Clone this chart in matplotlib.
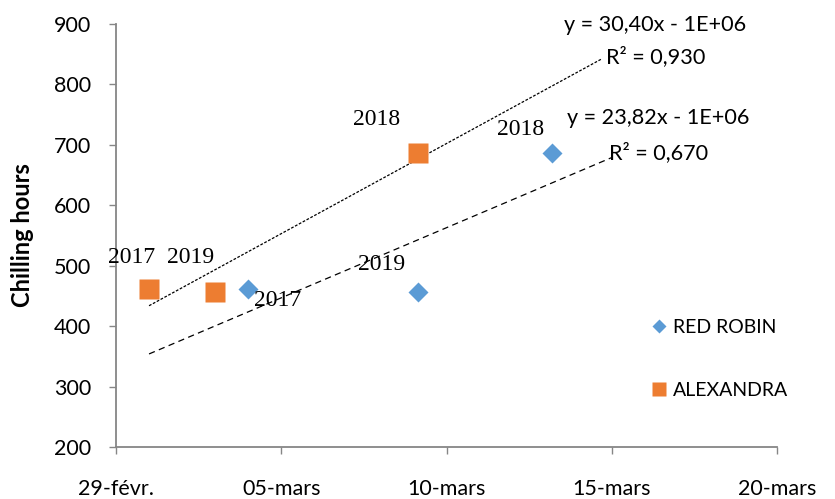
import numpy as np
import matplotlib.pyplot as plt
from matplotlib.ticker import FixedLocator

plt.rcParams['font.family'] = ['Lato', 'DejaVu Sans']

# days counted from 29 Feb
tick_days = [0, 5, 10, 15, 20]
tick_labels = ['29-févr.', '05-mars', '10-mars', '15-mars', '20-mars']
y_ticks = [200, 300, 400, 500, 600, 700, 800, 900]

rr_days = [4.0, 9.15, 13.2]
rr_hours = [462, 456, 686]
rr_years = ['2017', '2019', '2018']

al_days = [1.0, 3.0, 9.15]
al_hours = [462, 456, 686]
al_years = ['2017', '2019', '2018']

blue = '#5B9BD5'
orange = '#ED7D31'
grey = '#868686'

fig = plt.figure(figsize=(8.35, 4.99), dpi=100)
ax = fig.add_axes([116 / 835, 1 - 447 / 499, (777 - 116) / 835, (447 - 24) / 499])

# trendlines (linear fit, extended like excel forecast)
k_al = np.polyfit(al_days, al_hours, 1)
xs = np.array([1.0, 14.7])
ax.plot(xs, np.polyval(k_al, xs), color='black', lw=0.9, dashes=(2.2, 1.3), zorder=2)
k_rr = np.polyfit(rr_days, rr_hours, 1)
xs = np.array([1.0, 15.0])
ax.plot(xs, np.polyval(k_rr, xs), color='black', lw=0.9, dashes=(5, 3.5), zorder=2)

ax.plot(rr_days, rr_hours, 'D', color=blue, ms=10.2, mec='none', ls='none', label='RED ROBIN', zorder=3)
ax.plot(al_days, al_hours, 's', color=orange, ms=14.4, mec='none', ls='none', label='ALEXANDRA', zorder=3)

# year labels (offsets in pixels)
al_off = [(-17, 31), (-25, 35), (-42, 34)]
rr_off = [(29, -12), (-37, 28), (-32, 24)]
for d, h, t, o in zip(al_days, al_hours, al_years, al_off):
    ax.annotate(t, (d, h), xytext=o, textcoords='offset pixels', ha='center', va='center',
                family='Liberation Serif', fontsize=17, zorder=4)
for d, h, t, o in zip(rr_days, rr_hours, rr_years, rr_off):
    ax.annotate(t, (d, h), xytext=o, textcoords='offset pixels', ha='center', va='center',
                family='Liberation Serif', fontsize=17, zorder=4)

# equations
ax.text(0.815, 0.998, 'y = 30,40x - 1E+06', transform=ax.transAxes, ha='center', va='center', fontsize=15.6)
ax.text(0.817, 0.924, 'R² = 0,930', transform=ax.transAxes, ha='center', va='center', fontsize=15.6)
ax.text(0.820, 0.778, 'y = 23,82x - 1E+06', transform=ax.transAxes, ha='center', va='center', fontsize=15.6)
ax.text(0.821, 0.697, 'R² = 0,670', transform=ax.transAxes, ha='center', va='center', fontsize=15.6)

ax.set_xlim(0, 20)
ax.set_ylim(200, 900)
ax.xaxis.set_major_locator(FixedLocator(tick_days))
ax.set_xticklabels(tick_labels)
ax.set_yticks(y_ticks)
ax.tick_params(axis='both', direction='out', length=5, width=1, color=grey, labelsize=15.5)
ax.tick_params(axis='y', pad=13)
ax.tick_params(axis='x', pad=18)
for s in ['top', 'right']:
    ax.spines[s].set_visible(False)
for s in ['left', 'bottom']:
    ax.spines[s].set_color(grey)
    ax.spines[s].set_linewidth(1.3)

fig.text(22 / 835, 1 - 235 / 499, 'Chilling hours', rotation=90, fontweight='bold',
         fontsize=17, ha='center', va='center')

leg = fig.legend(loc='center left', bbox_to_anchor=(651 / 835, 1 - 359 / 499), frameon=False,
                 fontsize=14, handlelength=0.8, handletextpad=0.32, labelspacing=2.36,
                 borderpad=0, borderaxespad=0, markerscale=0.7)

fig.savefig('out.png', dpi=100)
